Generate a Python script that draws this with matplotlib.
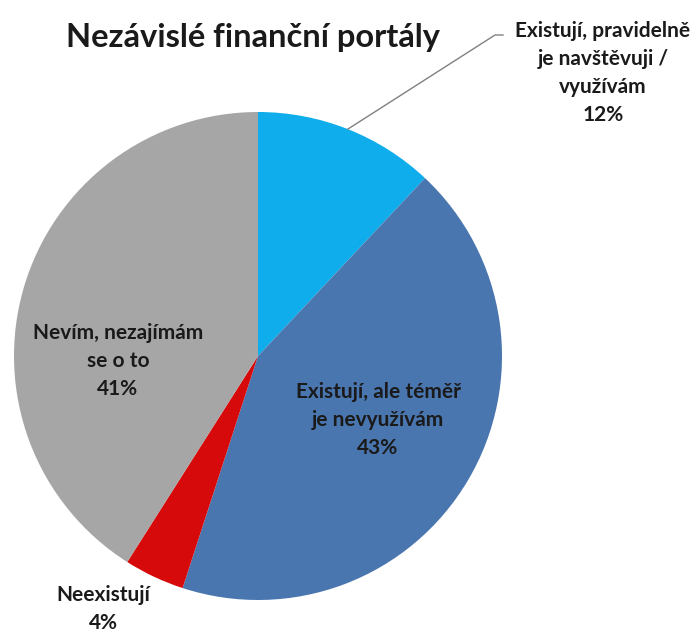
from matplotlib import pyplot as plt
import numpy as np

# survey shares, clockwise from 12 o'clock
labels = ['Existují, pravidelně\nje navštěvuji /\nvyužívám',
          'Existují, ale téměř\nje nevyužívám',
          'Neexistují',
          'Nevím, nezajímám\nse o to']
shares = [12, 43, 4, 41]
colors = ['#0FADEB', '#4A76B0', '#D60A0A', '#A6A6A6']
title = 'Nezávislé finanční portály'

W, H = 696, 637
cx, cy, r = 258, 356, 244

fig = plt.figure(figsize=(W/100, H/100), dpi=100)
ax = fig.add_axes([0, 0, 1, 1])

ax.pie(shares, colors=colors, startangle=90, counterclock=False,
       center=(cx, H-cy), radius=r, wedgeprops=dict(linewidth=0))

# pie() resets the view, so fix the pixel frame afterwards
ax.set_xlim(0, W)
ax.set_ylim(0, H)
ax.set_aspect('equal')
ax.axis('off')

font = dict(family=['Lato', 'DejaVu Sans'], fontweight='bold', color='#1a1a1a',
            ha='center', va='center', linespacing=1.5)

texts = [l + '\n' + str(v) + '%' for l, v in zip(labels, shares)]
# label centres in pixels (x, y from top)
pos = [(603, 73), (378, 420), (103, 609), (118, 361)]
for t, (x, y) in zip(texts, pos):
    ax.text(x, H-y, t, fontsize=15, **font)

# leader line for the small slice
mid = np.radians(90 - shares[0]*3.6/2)
x0, y0 = cx + r*np.cos(mid), H-cy + r*np.sin(mid)
ax.plot([x0, 495, 503], [y0, H-35, H-35], color='#808080', lw=1)

ax.text(253, H-37, title, fontsize=23.5, **font)

plt.savefig('out.png', dpi=100)
